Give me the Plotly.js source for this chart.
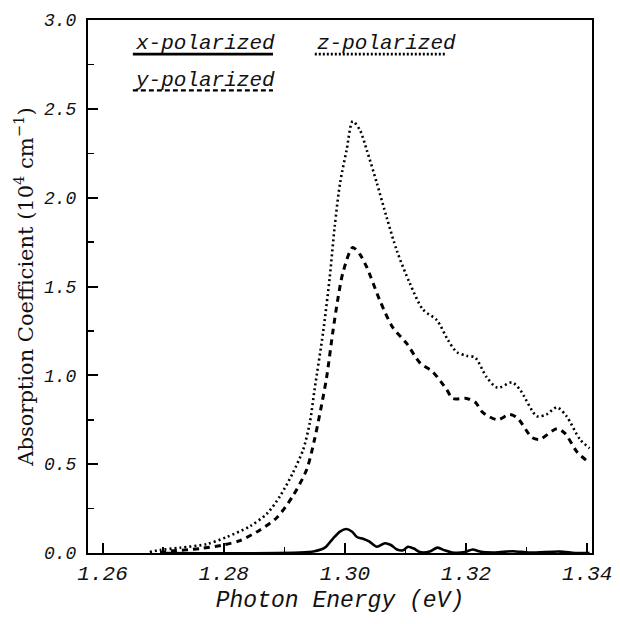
<!DOCTYPE html>
<html>
<head>
<meta charset="utf-8">
<script src="https://cdn.plot.ly/plotly-3.0.1.min.js"></script>
<style>html,body{margin:0;padding:0;background:#fff;}#chart{width:620px;height:624px;}</style>
</head>
<body>
<div id="chart"></div>
<script>
// x-polarized (solid)
const xPolE = [1.2695,1.2926,1.2950,1.2967,1.2980,1.2992,1.3002,1.3012,1.3020,1.3030,1.3040,1.3053,1.3066,1.3076,1.3086,1.3096,1.3104,1.3114,1.3124,1.3140,1.3153,1.3165,1.3177,1.3198,1.3211,1.3223,1.3248,1.3277,1.3305,1.3355,1.3380,1.3404];
const xPolA = [0.0,0.002,0.01,0.03,0.08,0.12,0.135,0.12,0.09,0.08,0.065,0.035,0.055,0.045,0.02,0.015,0.035,0.025,0.005,0.008,0.03,0.015,0.003,0.005,0.02,0.008,0.003,0.01,0.002,0.008,0.0,0.0];
// y-polarized (dashed)
const yPolE = [1.2695,1.2711,1.2761,1.2799,1.2827,1.2860,1.2888,1.2914,1.2937,1.2950,1.2962,1.2970,1.2980,1.2988,1.2997,1.3013,1.3025,1.3036,1.3058,1.3079,1.3102,1.3124,1.3145,1.3168,1.3178,1.3201,1.3215,1.3228,1.3252,1.3272,1.3285,1.3309,1.3322,1.3350,1.3363,1.3383,1.3399];
const yPolA = [0.003,0.01,0.025,0.045,0.07,0.13,0.20,0.32,0.47,0.64,0.84,0.99,1.24,1.42,1.58,1.72,1.68,1.61,1.42,1.27,1.18,1.07,1.02,0.92,0.87,0.87,0.85,0.79,0.75,0.78,0.76,0.65,0.64,0.70,0.675,0.57,0.52];
// z-polarized (dotted)
const zPolE = [1.2678,1.2695,1.2728,1.2772,1.2805,1.2843,1.2871,1.2893,1.2914,1.2931,1.2942,1.2950,1.2964,1.2975,1.2983,1.2992,1.3003,1.3013,1.3025,1.3036,1.3053,1.3069,1.3086,1.3107,1.3129,1.3152,1.3170,1.3185,1.3201,1.3215,1.3234,1.3252,1.3276,1.3289,1.3317,1.3333,1.3350,1.3366,1.3388,1.3404];
const zPolA = [0.005,0.017,0.03,0.05,0.09,0.15,0.22,0.32,0.45,0.58,0.73,0.92,1.24,1.55,1.83,2.08,2.27,2.43,2.38,2.27,2.08,1.89,1.70,1.52,1.37,1.31,1.20,1.13,1.11,1.10,0.99,0.93,0.96,0.92,0.77,0.78,0.82,0.77,0.64,0.59];

const xTicks = [1.26,1.28,1.30,1.32,1.34];
const yTicks = [0.0,0.5,1.0,1.5,2.0,2.5,3.0];
const legendNames = ["x-polarized","z-polarized","y-polarized"];

const mono = "Liberation Mono, Courier New, monospace";
const traces = [
  {x:xPolE, y:xPolA, mode:"lines", line:{color:"#000", width:2.6, shape:"spline", smoothing:0.8}, name:legendNames[0]},
  {x:yPolE, y:yPolA, mode:"lines", line:{color:"#000", width:3, dash:"6px,5px", shape:"spline", smoothing:0.8}, name:legendNames[2]},
  {x:zPolE, y:zPolA, mode:"lines", line:{color:"#000", width:2.6, dash:"2px,3px", shape:"spline", smoothing:0.8}, name:legendNames[1]}
];

const layout = {
  width:620, height:624,
  margin:{l:88, r:28, t:20, b:71},
  paper_bgcolor:"#fff", plot_bgcolor:"#fff",
  showlegend:false,
  xaxis:{
    range:[1.2576,1.3408], tickvals:xTicks, tickformat:".2f",
    ticks:"inside", ticklen:10, tickwidth:2, tickcolor:"#000",
    minor:{dtick:0.01, tick0:1.26, ticks:"inside", ticklen:6, tickwidth:1.5, tickcolor:"#000"},
    showline:true, linecolor:"#000", linewidth:2, mirror:true,
    showgrid:false, zeroline:false,
    tickfont:{family:mono, size:21, color:"#111", style:"italic"},
    title:{text:"Photon Energy (eV)", font:{family:mono, size:23, color:"#111", style:"italic"}, standoff:6}
  },
  yaxis:{
    range:[0,3], tickvals:yTicks, tickformat:".1f",
    ticks:"inside", ticklen:10, tickwidth:2, tickcolor:"#000",
    minor:{dtick:0.25, tick0:0, ticks:"inside", ticklen:6, tickwidth:1.5, tickcolor:"#000"},
    showline:true, linecolor:"#000", linewidth:2, mirror:true,
    showgrid:false, zeroline:false,
    ticklabelstandoff:6,
    tickfont:{family:mono, size:18, color:"#111", style:"italic"},
    title:{text:"Absorption Coefficient (10<sup>4</sup> cm<sup>\u22121</sup>)", font:{family:"DejaVu Serif", size:21, color:"#111"}, standoff:5}
  },
  annotations:[
    {xref:"paper", yref:"paper", x:0.089, y:0.955, xanchor:"left", yanchor:"middle", showarrow:false, text:legendNames[0], font:{family:mono, size:21, color:"#111", style:"italic"}},
    {xref:"paper", yref:"paper", x:0.450, y:0.955, xanchor:"left", yanchor:"middle", showarrow:false, text:legendNames[1], font:{family:mono, size:21, color:"#111", style:"italic"}},
    {xref:"paper", yref:"paper", x:0.089, y:0.887, xanchor:"left", yanchor:"middle", showarrow:false, text:legendNames[2], font:{family:mono, size:21, color:"#111", style:"italic"}}
  ],
  shapes:[
    {type:"line", xref:"paper", yref:"paper", x0:0.089, x1:0.367, y0:0.936, y1:0.936, line:{color:"#000", width:2.6}},
    {type:"line", xref:"paper", yref:"paper", x0:0.450, x1:0.708, y0:0.936, y1:0.936, line:{color:"#000", width:2.6, dash:"2px,2px"}},
    {type:"line", xref:"paper", yref:"paper", x0:0.089, x1:0.367, y0:0.868, y1:0.868, line:{color:"#000", width:2.4, dash:"5px,3px"}}
  ]
};

Plotly.newPlot("chart", traces, layout, {staticPlot:true, displayModeBar:false});
</script>
</body>
</html>
